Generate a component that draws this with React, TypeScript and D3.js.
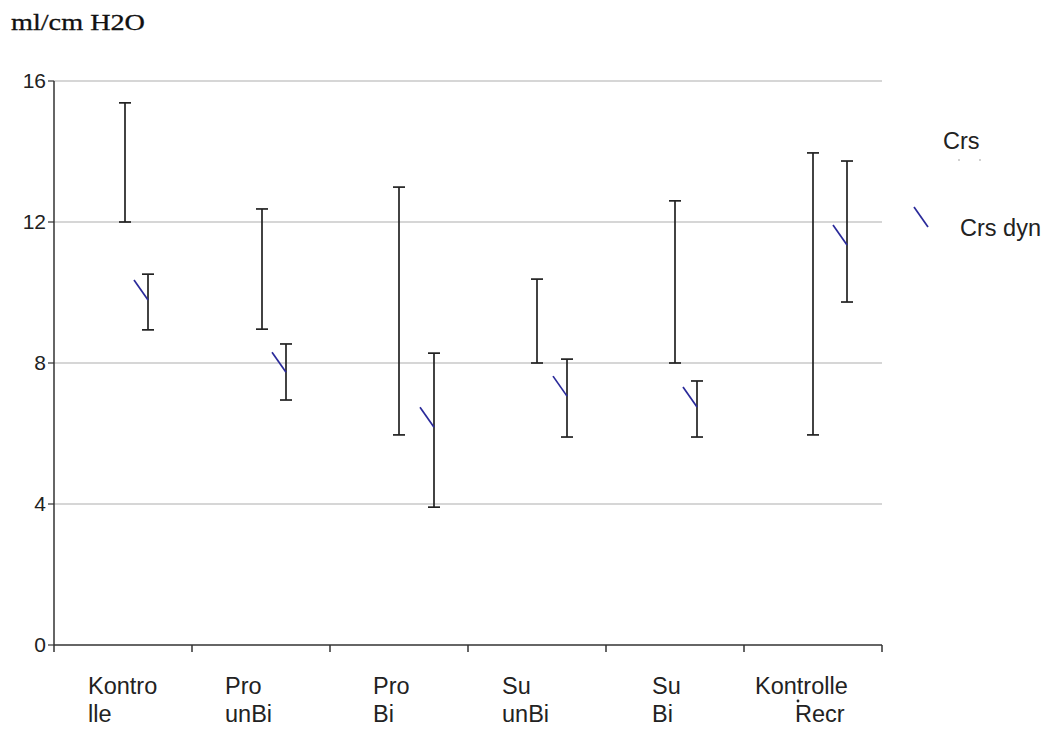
import React from "react";
import * as d3 from "d3";

// Group labels (two lines each)
const categories: string[][] = [
  ["Kontro", "lle"],
  ["Pro", "unBi"],
  ["Pro", "Bi"],
  ["Su", "unBi"],
  ["Su", "Bi"],
  ["Kontrolle", "Recr"],
];

// Crs: range (low, high)
const crsLow = [12.0, 8.96, 5.96, 8.0, 8.0, 5.96];
const crsHigh = [15.38, 12.37, 12.99, 10.38, 12.6, 13.96];

// Crs dyn: range (low, high) and mean
const dynLow = [8.94, 6.95, 3.91, 5.9, 5.9, 9.73];
const dynHigh = [10.52, 8.54, 8.28, 8.11, 7.49, 13.73];
const dynMean = [9.79, 7.74, 6.18, 7.06, 6.75, 11.35];

const yTicks = [0, 4, 8, 12, 16];

// layout
const W = 1048;
const H = 733;
const X0 = 54;
const X1 = 882;
const Y0 = 645;
const Y1 = 81;
const labelOffsets = [34, 33, 43, 34, 46, 11];
const crsShift = [2, 1, 0, 0, 0, 0];
const dynShift = [25, 25, 35, 30, 22, 34];

export default function App() {
  const x = d3
    .scaleBand<number>()
    .domain(d3.range(categories.length))
    .range([X0, X1]);
  const y = d3.scaleLinear().domain([0, 16]).range([Y0, Y1]);
  const bw = x.bandwidth();
  const sans = "'Liberation Sans', Arial, sans-serif";
  const cap = 6;
  const labelSize = 23.5;

  const errBar = (cx: number, lo: number, hi: number, key: string) => (
    <g key={key} stroke="#222" strokeWidth={1.7} fill="none">
      <line x1={cx} x2={cx} y1={y(hi)} y2={y(lo)} />
      <line x1={cx - cap} x2={cx + cap} y1={y(hi)} y2={y(hi)} />
      <line x1={cx - cap} x2={cx + cap} y1={y(lo)} y2={y(lo)} />
    </g>
  );

  return (
    <svg
      width={W}
      height={H}
      style={{ position: "absolute", left: 0, top: 0, background: "#fff" }}
    >
      <rect width={W} height={H} fill="#fff" />
      <text
        x={11}
        y={30}
        fontFamily="'Liberation Serif', 'Times New Roman', serif"
        fontSize={24}
        textLength={134}
        lengthAdjust="spacingAndGlyphs"
        fill="#111"
        stroke="#111"
        strokeWidth={0.3}
      >
        ml/cm H2O
      </text>

      {/* gridlines */}
      {yTicks
        .filter((t) => t > 0)
        .map((t) => (
          <line
            key={"g" + t}
            x1={X0}
            x2={X1}
            y1={y(t)}
            y2={y(t)}
            stroke="#c8c8c8"
            strokeWidth={1.5}
          />
        ))}

      {/* y axis */}
      <line x1={X0} x2={X0} y1={y(16)} y2={Y0} stroke="#333" strokeWidth={1.5} />
      {yTicks.map((t) => (
        <g key={"yt" + t}>
          <line x1={X0 - 6} x2={X0} y1={y(t)} y2={y(t)} stroke="#333" strokeWidth={1.2} />
          <text
            x={X0 - 8}
            y={y(t) + 7}
            textAnchor="end"
            fontFamily={sans}
            fontSize={21}
            fill="#222"
          >
            {t}
          </text>
        </g>
      ))}

      {/* x axis */}
      <line x1={X0} x2={X1} y1={Y0} y2={Y0} stroke="#333" strokeWidth={1.5} />
      {d3.range(categories.length + 1).map((i) => {
        const tx = i < categories.length ? x(i)! : X1;
        return (
          <line
            key={"xt" + i}
            x1={tx}
            x2={tx}
            y1={Y0}
            y2={Y0 + 7}
            stroke="#333"
            strokeWidth={1.5}
          />
        );
      })}
      {categories.map((c, i) => (
        <text key={"cl" + i} fontFamily={sans} fontSize={labelSize} fill="#222">
          <tspan x={x(i)! + labelOffsets[i]} y={694}>
            {c[0]}
          </tspan>
          <tspan x={x(i)! + labelOffsets[i] + (i === 5 ? 40 : 0)} y={722}>
            {c[1]}
          </tspan>
        </text>
      ))}
      <circle cx={798} cy={701} r={1.4} fill="#222" />

      {/* Crs error bars */}
      {categories.map((_, i) =>
        errBar(x(i)! + bw / 2 + crsShift[i], crsLow[i], crsHigh[i], "crs" + i)
      )}

      {/* Crs dyn error bars with mean marker */}
      {categories.map((_, i) => {
        const cx = x(i)! + bw / 2 + dynShift[i];
        return (
          <g key={"dyn" + i}>
            {errBar(cx, dynLow[i], dynHigh[i], "db" + i)}
            <line
              x1={cx - 14}
              y1={y(dynMean[i]) - 20}
              x2={cx}
              y2={y(dynMean[i])}
              stroke="#2a2a9a"
              strokeWidth={1.7}
            />
          </g>
        );
      })}

      {/* legend */}
      <text x={943} y={149} fontFamily={sans} fontSize={labelSize} fill="#222">
        Crs
      </text>
      <circle cx={959} cy={160} r={0.8} fill="#999" />
      <circle cx={980} cy={160} r={0.8} fill="#999" />
      <line x1={914} y1={207} x2={928} y2={227} stroke="#2a2a9a" strokeWidth={1.7} />
      <text x={960} y={236} fontFamily={sans} fontSize={labelSize} fill="#222">
        Crs dyn
      </text>
    </svg>
  );
}
